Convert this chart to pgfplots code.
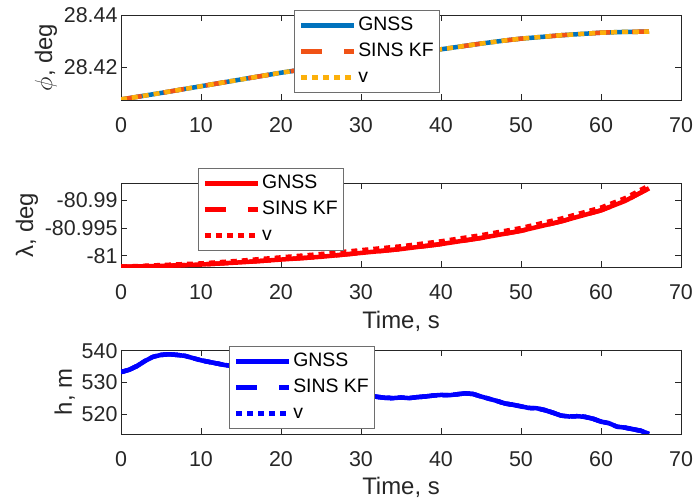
\documentclass[border=0pt]{standalone}
\usepackage{fontspec}
\setmainfont{Liberation Sans}
\usepackage{pgfplots}
\pgfplotsset{compat=1.18}
\definecolor{mblue}{RGB}{0,114,189}
\definecolor{morange}{RGB}{240,82,22}
\definecolor{myellow}{RGB}{252,176,10}
\definecolor{axgray}{RGB}{38,38,38}
\definecolor{leggray}{RGB}{110,110,110}
\pgfplotsset{
  mystyle/.style={
    scale only axis, width=560bp, height=84bp,
    xmin=0, xmax=70, xtick={0,10,...,70},
    axis line style={axgray, line width=0.8bp},
    every tick/.style={axgray, line width=0.8bp},
    major tick length=6bp,
    tick label style={font=\fontsize{21.5}{25}\selectfont, text=axgray},
    /pgf/number format/assume math mode=true,
    xticklabel style={yshift=-14bp},
    label style={font=\fontsize{24}{28}\selectfont, text=axgray},
    xlabel style={yshift=-4bp},
    legend cell align=left,
    legend style={font=\fontsize{19.5}{22}\selectfont, anchor=north west,
      draw=leggray, line width=0.9bp, fill=white,
      inner xsep=4bp, inner ysep=4bp, row sep=4bp,
      nodes={inner sep=2bp, text height=14bp, text depth=4bp}},
    legend image code/.code={\draw[##1, line cap=butt] (0bp,0bp) -- (53bp,0bp);},
  },
  lw/.style={line width=4.5bp},
  dsh/.style={dash pattern=on 21bp off 22bp},
  dtt/.style={dash pattern=on 6bp off 5bp},
}
\begin{document}
\begin{tikzpicture}
\useasboundingbox (0,0) rectangle (693bp,501bp);
% top: latitude
\begin{axis}[mystyle, at={(121bp,401bp)}, anchor=south west, height=85bp,
  ymin=28.4073, ymax=28.44, ytick={28.42,28.44}, yticklabels={28.42,28.44},
  ylabel={$\phi$, deg},
  legend style={at={(0.3095,1.0588)}}]
\addplot[mblue, lw] table {
0 28.4075
5 28.4100
10 28.4126
15 28.4152
20 28.4178
25 28.4201
30 28.4224
35 28.4246
40 28.4268
45 28.4290
48 28.4302
50 28.4309
55 28.4322
60 28.4332
63 28.4335
66 28.4336
};
\addplot[morange, lw, dsh] table {
0 28.4075
5 28.4100
10 28.4126
15 28.4152
20 28.4178
25 28.4201
30 28.4224
35 28.4246
40 28.4268
45 28.4290
48 28.4302
50 28.4309
55 28.4322
60 28.4332
63 28.4335
66 28.4336
};
\addplot[myellow, lw, dtt] table {
0 28.4075
5 28.4100
10 28.4126
15 28.4152
20 28.4178
25 28.4201
30 28.4224
35 28.4246
40 28.4268
45 28.4290
48 28.4302
50 28.4309
55 28.4322
60 28.4332
63 28.4335
66 28.4336
};
\legend{GNSS,SINS KF,v}
\end{axis}
% middle: longitude
\begin{axis}[mystyle, at={(121bp,233.7bp)}, anchor=south west,
  ymin=-81.0021, ymax=-80.9869, ytick={-81,-80.995,-80.99},
  yticklabels={-81,-80.995,-80.99},
  ylabel={λ, deg}, xlabel={Time, s},
  legend style={at={(0.138,1.1786)}}]
\addplot[red, lw] table {
0 -81.0020
5 -81.00185
10 -81.0016
15 -81.0012
20 -81.0007
25 -81.0002
30 -80.9995
35 -80.9988
40 -80.9979
45 -80.9968
50 -80.9955
55 -80.9938
60 -80.9918
63 -80.9901
66 -80.9878
};
\addplot[red, lw, dsh] table {
0 -81.0020
5 -81.00185
10 -81.0016
15 -81.0012
20 -81.0007
25 -81.0002
30 -80.9995
35 -80.9988
40 -80.9979
45 -80.9968
50 -80.9955
55 -80.9938
60 -80.9918
63 -80.9901
66 -80.9878
};
\addplot[red, lw, dtt] table {
0 -81.0020
5 -81.0017
10 -81.0014
15 -81.0009
20 -81.0003
25 -80.9997
30 -80.9990
35 -80.9983
40 -80.9974
45 -80.9963
50 -80.9950
55 -80.9933
60 -80.9913
63 -80.9896
66 -80.9873
};
\legend{GNSS,SINS KF,v}
\end{axis}
% bottom: height
\begin{axis}[mystyle, at={(121bp,67bp)}, anchor=south west,
  ymin=513.8, ymax=540.25, ytick={520,530,540},
  ylabel={h, m}, xlabel={Time, s},
  legend style={at={(0.1934,1.0476)}}]
\pgfplotstableread{
t h
0 533.3
1 534.0
2 535.2
3 536.8
4 538.1
5 538.7
6 538.9
7 538.7
8 538.4
9 537.7
10 537.0
11 536.5
12 536.0
13 535.5
14 535.2
15 534.8
16 534.2
17 533.6
18 533.0
19 532.3
20 531.6
21 531.0
22 530.3
23 529.7
24 529.1
25 528.5
26 527.9
27 527.4
28 527.0
29 526.6
30 526.3
31 526.0
32 525.5
33 525.2
34 525.1
35 525.3
36 525.1
37 525.4
38 525.6
39 525.9
40 526.1
41 526.0
42 526.3
43 526.6
44 526.4
45 525.6
46 524.9
47 524.2
48 523.4
49 523.0
50 522.5
51 522.0
52 521.9
53 521.3
54 520.5
55 519.6
56 519.3
57 519.4
58 519.2
59 518.6
60 517.7
61 517.2
62 516.1
63 515.8
64 515.3
65 514.8
66 513.8
}\htable
\addplot[blue, lw] table[x=t,y=h] {\htable};
\addplot[blue, lw, dsh] table[x=t,y=h] {\htable};
\addplot[blue, lw, dtt] table[x=t,y=h] {\htable};
\legend{GNSS,SINS KF,v}
\end{axis}
\end{tikzpicture}
\end{document}
